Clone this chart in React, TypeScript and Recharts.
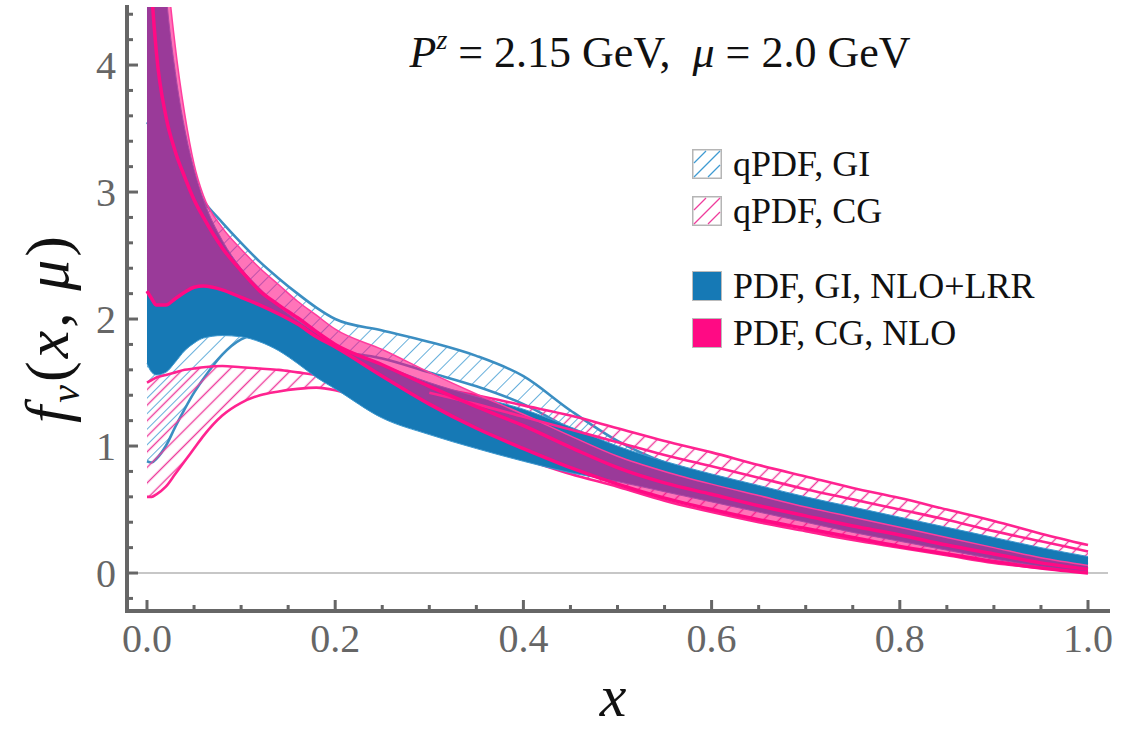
import React from "react";
import { Area, ComposedChart, Legend, Line, ReferenceLine, XAxis, YAxis } from "recharts";

// momentum fraction samples (denser near x = 0 where the bands blow up)
const xs = [0, 0.005, 0.01, 0.02, 0.03, 0.04, 0.05, 0.06, 0.08, 0.1, 0.12, 0.14, 0.16, 0.18, 0.2, 0.25, 0.3, 0.35, 0.4, 0.45, 0.5, 0.55, 0.6, 0.65, 0.7, 0.75, 0.8, 0.85, 0.9, 0.95, 1.0];

// qPDF, GI (hatched blue)
const qgiHi = [3.55, 3.5, 3.45, 3.35, 3.25, 3.14, 3.04, 2.93, 2.76, 2.6, 2.45, 2.32, 2.2, 2.09, 2.0, 1.91, 1.82, 1.71, 1.55, 1.28, 1.04, 0.87, 0.76, 0.66, 0.57, 0.49, 0.41, 0.33, 0.25, 0.18, 0.11];
const qgiLo = [0.88, 0.87, 0.9, 1.0, 1.15, 1.29, 1.42, 1.53, 1.72, 1.84, 1.88, 1.86, 1.82, 1.78, 1.75, 1.69, 1.58, 1.47, 1.33, 1.13, 0.92, 0.78, 0.66, 0.57, 0.48, 0.4, 0.32, 0.25, 0.18, 0.12, 0.07];

// qPDF, CG (hatched pink)
const qcgHi = [1.5, 1.52, 1.54, 1.56, 1.58, 1.6, 1.61, 1.62, 1.63, 1.62, 1.61, 1.6, 1.58, 1.56, 1.55, 1.5, 1.46, 1.4, 1.32, 1.24, 1.14, 1.04, 0.95, 0.85, 0.76, 0.67, 0.59, 0.5, 0.41, 0.31, 0.22];
const qcgMid = [null, null, null, null, null, null, null, null, null, null, null, null, null, null, null, null, 1.42, 1.33, 1.23, 1.13, 1.03, 0.93, 0.84, 0.75, 0.66, 0.58, 0.5, 0.42, 0.33, 0.25, 0.17];
const qcgLo = [0.6, 0.6, 0.62, 0.68, 0.78, 0.88, 0.98, 1.08, 1.24, 1.34, 1.4, 1.43, 1.45, 1.46, 1.44, 1.3, 1.15, 1.02, 0.9, 0.78, 0.68, 0.57, 0.48, 0.4, 0.33, 0.26, 0.2, 0.14, 0.08, 0.04, 0.01];

// PDF, GI, NLO+LRR (solid blue)
const giHi = [9, 7.2, 5.8, 4.6, 3.95, 3.5, 3.18, 2.94, 2.62, 2.4, 2.24, 2.1, 1.99, 1.89, 1.8, 1.64, 1.5, 1.39, 1.29, 1.15, 1.0, 0.88, 0.78, 0.69, 0.6, 0.52, 0.44, 0.36, 0.28, 0.2, 0.13];
const giLo = [1.65, 1.58, 1.56, 1.58, 1.66, 1.75, 1.81, 1.85, 1.87, 1.86, 1.82, 1.75, 1.65, 1.54, 1.45, 1.22, 1.09, 0.98, 0.88, 0.79, 0.72, 0.64, 0.56, 0.48, 0.4, 0.32, 0.25, 0.18, 0.11, 0.05, 0.0];

// PDF, CG, NLO (translucent pink)
const cgHi = [10, 8, 6.3, 4.9, 4.15, 3.62, 3.22, 2.97, 2.72, 2.55, 2.4, 2.27, 2.14, 2.03, 1.92, 1.76, 1.58, 1.41, 1.25, 1.08, 0.92, 0.8, 0.7, 0.61, 0.52, 0.44, 0.36, 0.28, 0.2, 0.12, 0.06];
const cgMid = [5.6, 4.6, 4.1, 3.6, 3.32, 3.12, 2.94, 2.8, 2.56, 2.38, 2.22, 2.11, 2.01, 1.9, 1.8, 1.64, 1.47, 1.31, 1.16, 0.99, 0.83, 0.71, 0.62, 0.53, 0.45, 0.37, 0.3, 0.22, 0.15, 0.08, 0.03];
const cgLo = [2.22, 2.16, 2.11, 2.11, 2.16, 2.21, 2.25, 2.26, 2.23, 2.17, 2.11, 2.04, 1.96, 1.86, 1.78, 1.55, 1.33, 1.14, 0.98, 0.83, 0.7, 0.59, 0.5, 0.42, 0.35, 0.28, 0.21, 0.15, 0.09, 0.04, 0.0];

const xTicks = [0, 0.05, 0.1, 0.15, 0.2, 0.25, 0.3, 0.35, 0.4, 0.45, 0.5, 0.55, 0.6, 0.65, 0.7, 0.75, 0.8, 0.85, 0.9, 0.95, 1.0];
const xTickLabels = ["0.0", "0.2", "0.4", "0.6", "0.8", "1.0"];
const yTicks = [-0.2, 0, 0.2, 0.4, 0.6, 0.8, 1, 1.2, 1.4, 1.6, 1.8, 2, 2.2, 2.4, 2.6, 2.8, 3, 3.2, 3.4, 3.6, 3.8, 4, 4.2, 4.4];
const yTickLabels = ["0", "1", "2", "3", "4"];

const legendItems = [
  { label: "qPDF, GI", kind: "hatch", color: "#3f9bd2" },
  { label: "qPDF, CG", kind: "hatch", color: "#ee3d9c" },
  { label: "PDF, GI, NLO+LRR", kind: "solid", color: "#1679b5" },
  { label: "PDF, CG, NLO", kind: "solid", color: "#ff0a84" },
];

const rows = xs.map((x, i) => ({
  x,
  qgi: [qgiLo[i], qgiHi[i]],
  qcg: [qcgLo[i], qcgHi[i]],
  qcgMid: qcgMid[i],
  gi: [giLo[i], giHi[i]],
  cg: [cgLo[i], cgHi[i]],
  cgMid: cgMid[i],
  cgLo: cgLo[i],
}));

const SERIF = '"Liberation Serif", "DejaVu Serif", serif';
const FRAME = "#666";

const xMajorIndex = (v: number) => {
  const k = Math.round(v * 5);
  return Math.abs(v * 5 - k) < 1e-6 ? k : -1;
};
const yMajorIndex = (v: number) => (Math.abs(v - Math.round(v)) < 1e-6 && v >= 0 ? Math.round(v) : -1);

const BottomTick = ({ x, y, payload }: any) => {
  const k = xMajorIndex(payload.value);
  return (
    <g>
      <line x1={x} x2={x} y1={y} y2={y - (k >= 0 ? 11 : 6)} stroke={FRAME} strokeWidth={3} />
      {k >= 0 && (
        <text x={x} y={y + 41} textAnchor="middle" fill={FRAME} fontSize={40} fontFamily={SERIF}>
          {xTickLabels[k]}
        </text>
      )}
    </g>
  );
};

const TopTick = ({ x, y, payload }: any) => {
  const k = xMajorIndex(payload.value);
  return <line x1={x} x2={x} y1={y} y2={y + (k >= 0 ? 11 : 6)} stroke={FRAME} strokeWidth={3} />;
};

const LeftTick = ({ x, y, payload }: any) => {
  const k = yMajorIndex(payload.value);
  return (
    <g>
      <line x1={x} x2={x + (k >= 0 ? 11 : 6)} y1={y} y2={y} stroke={FRAME} strokeWidth={3} />
      {k >= 0 && (
        <text x={x - 11} y={y + 14} textAnchor="end" fill={FRAME} fontSize={40} fontFamily={SERIF}>
          {yTickLabels[k]}
        </text>
      )}
    </g>
  );
};

const RightTick = ({ x, y, payload }: any) => {
  const k = yMajorIndex(payload.value);
  return <line x1={x} x2={x - (k >= 0 ? 11 : 6)} y1={y} y2={y} stroke={FRAME} strokeWidth={3} />;
};

const Swatch = ({ kind, color }: { kind: string; color: string }) => (
  <svg width={30} height={30} style={{ display: "block" }}>
    {kind === "hatch" ? (
      <g>
        <rect x={0.75} y={0.75} width={28.5} height={28.5} fill="white" stroke="#b5b5b5" strokeWidth={1.5} />
        <line x1={2} y1={14} x2={14} y2={2} stroke={color} strokeWidth={1.3} />
        <line x1={2} y1={28} x2={28} y2={2} stroke={color} strokeWidth={1.3} />
        <line x1={16} y1={28} x2={28} y2={16} stroke={color} strokeWidth={1.3} />
      </g>
    ) : (
      <rect x={0.5} y={0.5} width={29} height={29} fill={color} stroke="#bbb" strokeWidth={1} />
    )}
  </svg>
);

const renderLegend = () => (
  <div style={{ fontFamily: SERIF, fontSize: 36, color: "#111" }}>
    {legendItems.map((it, i) => (
      <div key={it.label} style={{ display: "flex", alignItems: "center", height: 47, marginTop: i === 2 ? 28 : 0 }}>
        <Swatch kind={it.kind} color={it.color} />
        <span style={{ marginLeft: 11, whiteSpace: "nowrap" }}>{it.label}</span>
      </div>
    ))}
  </div>
);

export default function App() {
  const xDomain = [-0.02125, 1.02125];
  const yDomain = [-0.299, 4.457];
  const axisLine = { stroke: FRAME, strokeWidth: 4, strokeLinecap: "square" as const };

  return (
    <div style={{ position: "absolute", left: 0, top: 0, width: 1140, height: 730, background: "white" }}>
      <ComposedChart width={1140} height={730} data={rows} margin={{ top: 7, right: 32, bottom: 59, left: 27 }}>
        <defs>
          <pattern id="hatchBlue" patternUnits="userSpaceOnUse" width={11} height={11} patternTransform="rotate(45)">
            <line x1={0} y1={0} x2={0} y2={11} stroke="#3f9bd2" strokeWidth={1.6} />
          </pattern>
          <pattern id="hatchPink" patternUnits="userSpaceOnUse" width={11} height={11} patternTransform="rotate(45)">
            <line x1={5.5} y1={0} x2={5.5} y2={11} stroke="#ee3d9c" strokeWidth={1.4} />
          </pattern>
        </defs>

        <XAxis dataKey="x" type="number" domain={xDomain} allowDataOverflow ticks={xTicks} interval={0} height={60} tickSize={0} tickMargin={0} axisLine={axisLine} tickLine={false} tick={(p: any) => <BottomTick {...p} />} />
        <XAxis xAxisId="top" orientation="top" type="number" domain={xDomain} allowDataOverflow ticks={xTicks} interval={0} height={0} tickSize={0} tickMargin={0} axisLine={axisLine} tickLine={false} tick={(p: any) => <TopTick {...p} />} />
        <YAxis type="number" domain={yDomain} allowDataOverflow ticks={yTicks} interval={0} width={100} tickSize={0} tickMargin={0} axisLine={axisLine} tickLine={false} tick={(p: any) => <LeftTick {...p} />} />
        <YAxis yAxisId="right" orientation="right" type="number" domain={yDomain} allowDataOverflow ticks={yTicks} interval={0} width={0} tickSize={0} tickMargin={0} axisLine={axisLine} tickLine={false} tick={(p: any) => <RightTick {...p} />} />

        <ReferenceLine y={0} stroke="#b4b4b4" strokeWidth={1.5} />

        <Area dataKey="qgi" type="monotone" fill="url(#hatchBlue)" fillOpacity={1} stroke="#3b8ec2" strokeWidth={2.6} dot={false} activeDot={false} isAnimationActive={false} />
        <Area dataKey="qcg" type="monotone" fill="url(#hatchPink)" fillOpacity={1} stroke="#ff2390" strokeWidth={2.6} dot={false} activeDot={false} isAnimationActive={false} />
        <Line dataKey="qcgMid" type="monotone" stroke="#ff2390" strokeWidth={2.6} dot={false} activeDot={false} isAnimationActive={false} />
        <Area dataKey="gi" type="monotone" fill="#1679b5" fillOpacity={1} stroke="#3d98cf" strokeWidth={1} dot={false} activeDot={false} isAnimationActive={false} />
        <Area dataKey="cg" type="monotone" fill="#ff0a84" fillOpacity={0.57} stroke="#ff3d9e" strokeWidth={1.5} dot={false} activeDot={false} isAnimationActive={false} />
        <Line dataKey="cgLo" type="monotone" stroke="#ff0a84" strokeWidth={3.5} dot={false} activeDot={false} isAnimationActive={false} />
        <Line dataKey="cgMid" type="monotone" stroke="#ff0a84" strokeWidth={3.5} dot={false} activeDot={false} isAnimationActive={false} />

        <text x={660} y={67} textAnchor="middle" fontFamily={SERIF} fontSize={44} fill="#111" style={{ whiteSpace: "pre" }}>
          <tspan fontStyle="italic">P</tspan>
          <tspan fontStyle="italic" fontSize={28} dy={-18}>z</tspan>
          <tspan dy={18}>{" = 2.15 GeV,  "}</tspan>
          <tspan fontStyle="italic">μ</tspan>
          <tspan>{" = 2.0 GeV"}</tspan>
        </text>

        <text x={613} y={716} textAnchor="middle" fontFamily={SERIF} fontSize={60} fontStyle="italic" fill="#111">x</text>

        <text x={0} y={0} transform="translate(68, 328) rotate(-90)" textAnchor="middle" fontFamily={SERIF} fontSize={62} fill="#111" letterSpacing={3} style={{ whiteSpace: "pre" }}>
          <tspan fontStyle="italic">f</tspan>
          <tspan fontStyle="italic" fontSize={40} dy={11}>v</tspan>
          <tspan dy={-11}>(</tspan>
          <tspan fontStyle="italic">x</tspan>
          <tspan>{", "}</tspan>
          <tspan fontStyle="italic">μ</tspan>
          <tspan>)</tspan>
        </text>

        <Legend content={renderLegend} layout="vertical" align="center" verticalAlign="middle" wrapperStyle={{ left: 692, top: 140, width: 420 }} />
      </ComposedChart>
    </div>
  );
}
